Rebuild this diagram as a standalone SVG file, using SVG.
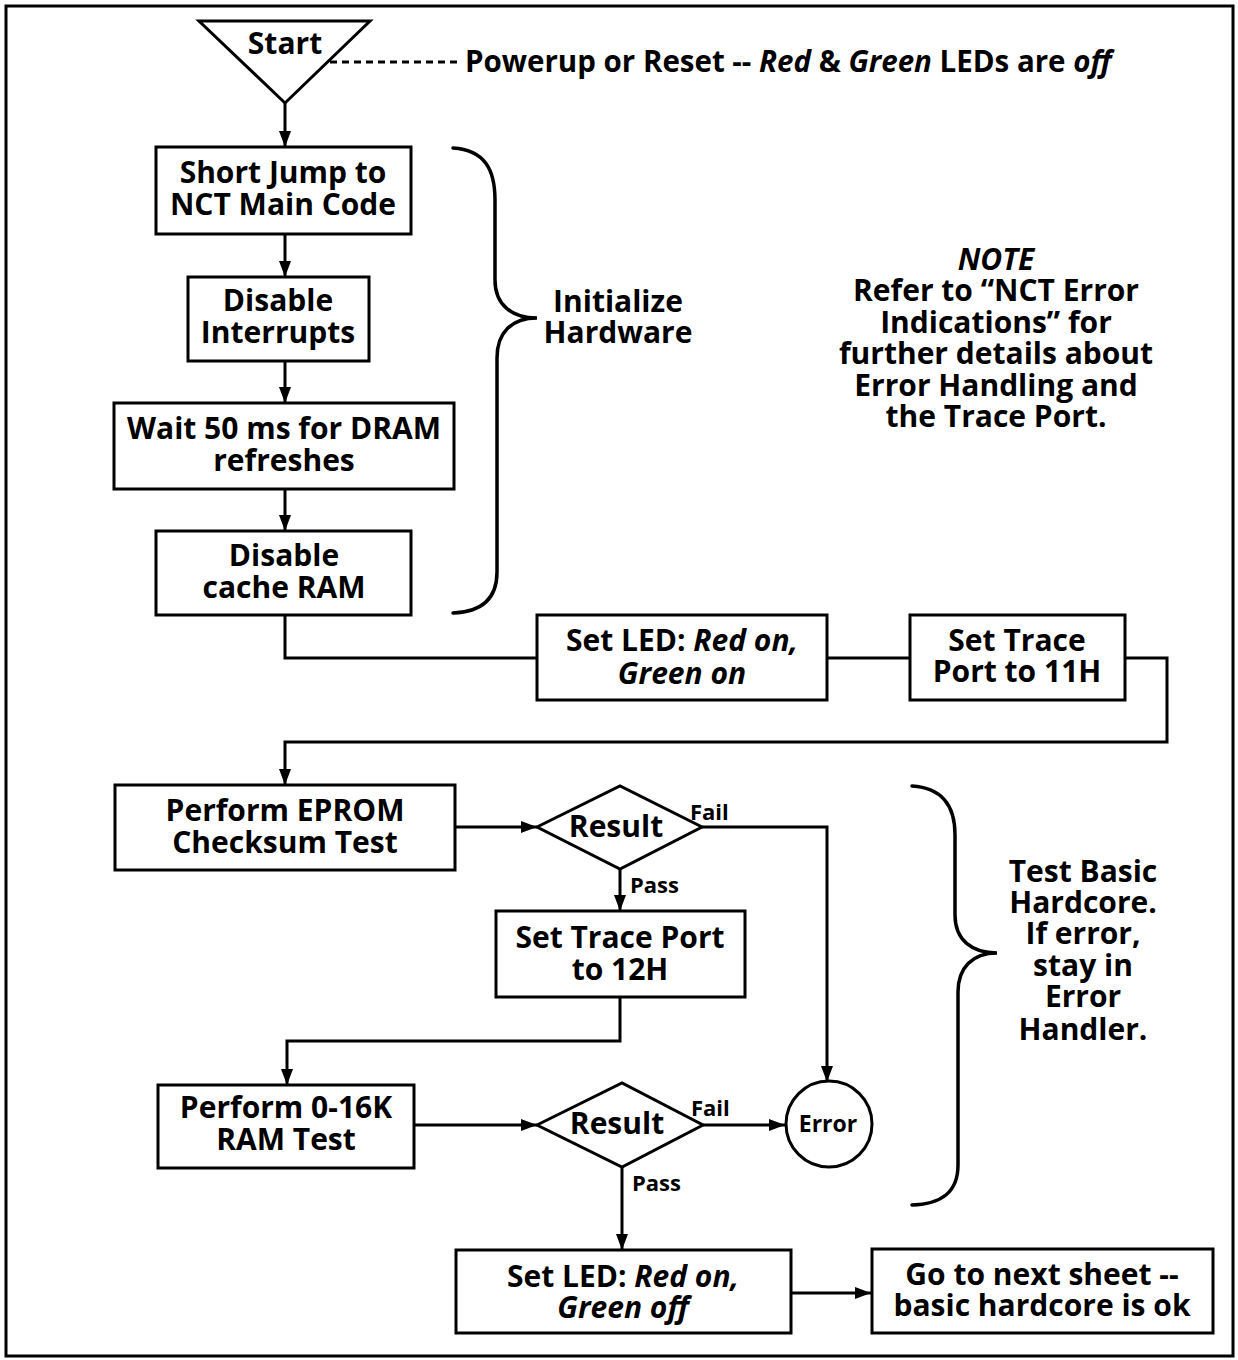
<svg xmlns="http://www.w3.org/2000/svg" width="1238" height="1360" viewBox="0 0 1238 1360">
  <defs>
    <marker id="arrow" viewBox="0 0 16 12" refX="16" refY="6" markerWidth="16" markerHeight="12" markerUnits="userSpaceOnUse" orient="auto">
      <path d="M0,0 L16,6 L0,12 Z" fill="#000"/>
    </marker>
    <style>
      .box { fill: #fff; stroke: #000; stroke-width: 3; }
      .line { fill: none; stroke: #000; stroke-width: 3; }
      .arr { fill: none; stroke: #000; stroke-width: 3; marker-end: url(#arrow); }
      .brace { fill: none; stroke: #000; stroke-width: 3.5; stroke-linecap: round; }
      text { font-family: "Open Sans", "Liberation Sans", sans-serif; font-weight: 700; fill: #000; }
      .t { font-size: 30px; text-anchor: middle; }
      .s { font-size: 22px; }
      .i { font-style: italic; }
    </style>
  </defs>
  <rect width="1238" height="1360" fill="#fff"/>
  <!-- page frame -->
  <rect x="6" y="6" width="1227" height="1350" fill="none" stroke="#000" stroke-width="3"/>

  <!-- connectors -->
  <g id="connectors">
    <line class="line" x1="330" y1="62" x2="458" y2="62" stroke-dasharray="7,5" stroke-width="2.5"/>
    <line class="arr" x1="285" y1="103" x2="285" y2="147"/>
    <line class="arr" x1="285" y1="234" x2="285" y2="277"/>
    <line class="arr" x1="285" y1="361" x2="285" y2="403"/>
    <line class="arr" x1="285" y1="489" x2="285" y2="531"/>
    <polyline class="line" points="285,615 285,658 537,658"/>
    <line class="line" x1="827" y1="658" x2="910" y2="658"/>
    <polyline class="arr" points="1125,658 1167,658 1167,742 285,742 285,785"/>
    <line class="arr" x1="455" y1="827" x2="537" y2="827"/>
    <polyline class="arr" points="702,827 827,827 827,1082"/>
    <line class="arr" x1="620" y1="869" x2="620" y2="911"/>
    <polyline class="arr" points="620,997 620,1041 287,1041 287,1085"/>
    <line class="arr" x1="414" y1="1125" x2="537" y2="1125"/>
    <line class="arr" x1="703" y1="1125" x2="785" y2="1125"/>
    <line class="arr" x1="622" y1="1167" x2="622" y2="1250"/>
    <line class="arr" x1="791" y1="1293" x2="871" y2="1293"/>
  </g>

  <!-- start terminal -->
  <g id="start">
    <polygon class="box" points="199,21 370,21 285,103"/>
    <text class="t" x="285" y="54">Start</text>
  </g>
  <g id="powerup-note">
    <text style="font-size:29.5px" x="465" y="72">Powerup or Reset -- <tspan class="i">Red</tspan> &amp; <tspan class="i">Green</tspan> LEDs are <tspan class="i">off</tspan></text>
  </g>

  <g id="short-jump">
    <rect class="box" x="156" y="147" width="255" height="87"/>
    <text class="t" x="283" y="183">Short Jump to</text>
    <text class="t" x="283" y="215">NCT Main Code</text>
  </g>
  <g id="disable-interrupts">
    <rect class="box" x="188" y="277" width="181" height="84"/>
    <text class="t" x="278" y="311">Disable</text>
    <text class="t" x="278" y="343">Interrupts</text>
  </g>
  <g id="wait-dram">
    <rect class="box" x="114" y="403" width="340" height="86"/>
    <text class="t" x="284" y="439">Wait 50 ms for DRAM</text>
    <text class="t" x="284" y="471">refreshes</text>
  </g>
  <g id="disable-cache">
    <rect class="box" x="156" y="531" width="255" height="84"/>
    <text class="t" x="284" y="566">Disable</text>
    <text class="t" x="284" y="598">cache RAM</text>
  </g>

  <g id="init-brace">
    <path class="brace" d="M453,148 C485,150 495,170 495,200 L495,280 C495,305 512,318 537,318 C512,318 497,332 497,358 L497,572 C497,600 480,612 453,613"/>
    <text class="t" x="618" y="312">Initialize</text>
    <text class="t" x="618" y="343">Hardware</text>
  </g>

  <g id="note">
    <text class="t i" x="996" y="270">NOTE</text>
    <text class="t" x="996" y="301">Refer to “NCT Error</text>
    <text class="t" x="996" y="333">Indications” for</text>
    <text class="t" x="996" y="364">further details about</text>
    <text class="t" x="996" y="396">Error Handling and</text>
    <text class="t" x="996" y="427">the Trace Port.</text>
  </g>

  <g id="led-red-green-on">
    <rect class="box" x="537" y="615" width="290" height="85"/>
    <text class="t" x="682" y="651">Set LED: <tspan class="i">Red on,</tspan></text>
    <text class="t i" x="682" y="684">Green on</text>
  </g>
  <g id="trace-11h">
    <rect class="box" x="910" y="615" width="215" height="85"/>
    <text class="t" x="1017" y="651">Set Trace</text>
    <text class="t" x="1017" y="682">Port to 11H</text>
  </g>

  <g id="eprom-test">
    <rect class="box" x="115" y="785" width="340" height="85"/>
    <text class="t" x="285" y="821">Perform EPROM</text>
    <text class="t" x="285" y="853">Checksum Test</text>
  </g>
  <g id="eprom-result">
    <polygon class="box" points="537,827 620,786 702,827 620,869"/>
    <text class="t" x="616" y="837">Result</text>
    <text class="s" x="690" y="820">Fail</text>
    <text class="s" x="630" y="893">Pass</text>
  </g>
  <g id="trace-12h">
    <rect class="box" x="496" y="911" width="249" height="86"/>
    <text class="t" x="620" y="948">Set Trace Port</text>
    <text class="t" x="620" y="980">to 12H</text>
  </g>

  <g id="ram-test">
    <rect class="box" x="158" y="1085" width="256" height="83"/>
    <text class="t" x="286" y="1118">Perform 0-16K</text>
    <text class="t" x="286" y="1150">RAM Test</text>
  </g>
  <g id="ram-result">
    <polygon class="box" points="537,1125 622,1083 703,1125 622,1167"/>
    <text class="t" x="617" y="1134">Result</text>
    <text class="s" x="691" y="1116">Fail</text>
    <text class="s" x="632" y="1191">Pass</text>
  </g>
  <g id="error">
    <circle class="box" cx="829" cy="1124" r="43"/>
    <text style="font-size:23px;text-anchor:middle" x="828" y="1132">Error</text>
  </g>

  <g id="test-brace">
    <path class="brace" d="M912,786 C942,788 955,805 955,835 L955,915 C955,940 972,953 997,953 C972,953 958,968 958,992 L958,1165 C958,1192 942,1204 912,1205"/>
    <text class="t" x="1083" y="882">Test Basic</text>
    <text class="t" x="1083" y="913">Hardcore.</text>
    <text class="t" x="1083" y="944">If error,</text>
    <text class="t" x="1083" y="976">stay in</text>
    <text class="t" x="1083" y="1007">Error</text>
    <text class="t" x="1083" y="1040">Handler.</text>
  </g>

  <g id="led-red-on-green-off">
    <rect class="box" x="456" y="1250" width="335" height="83"/>
    <text class="t" x="623" y="1287">Set LED: <tspan class="i">Red on,</tspan></text>
    <text class="t i" x="623" y="1318">Green off</text>
  </g>
  <g id="next-sheet">
    <rect class="box" x="872" y="1249" width="341" height="84"/>
    <text class="t" x="1042" y="1285">Go to next sheet --</text>
    <text class="t" x="1042" y="1316">basic hardcore is ok</text>
  </g>
</svg>
